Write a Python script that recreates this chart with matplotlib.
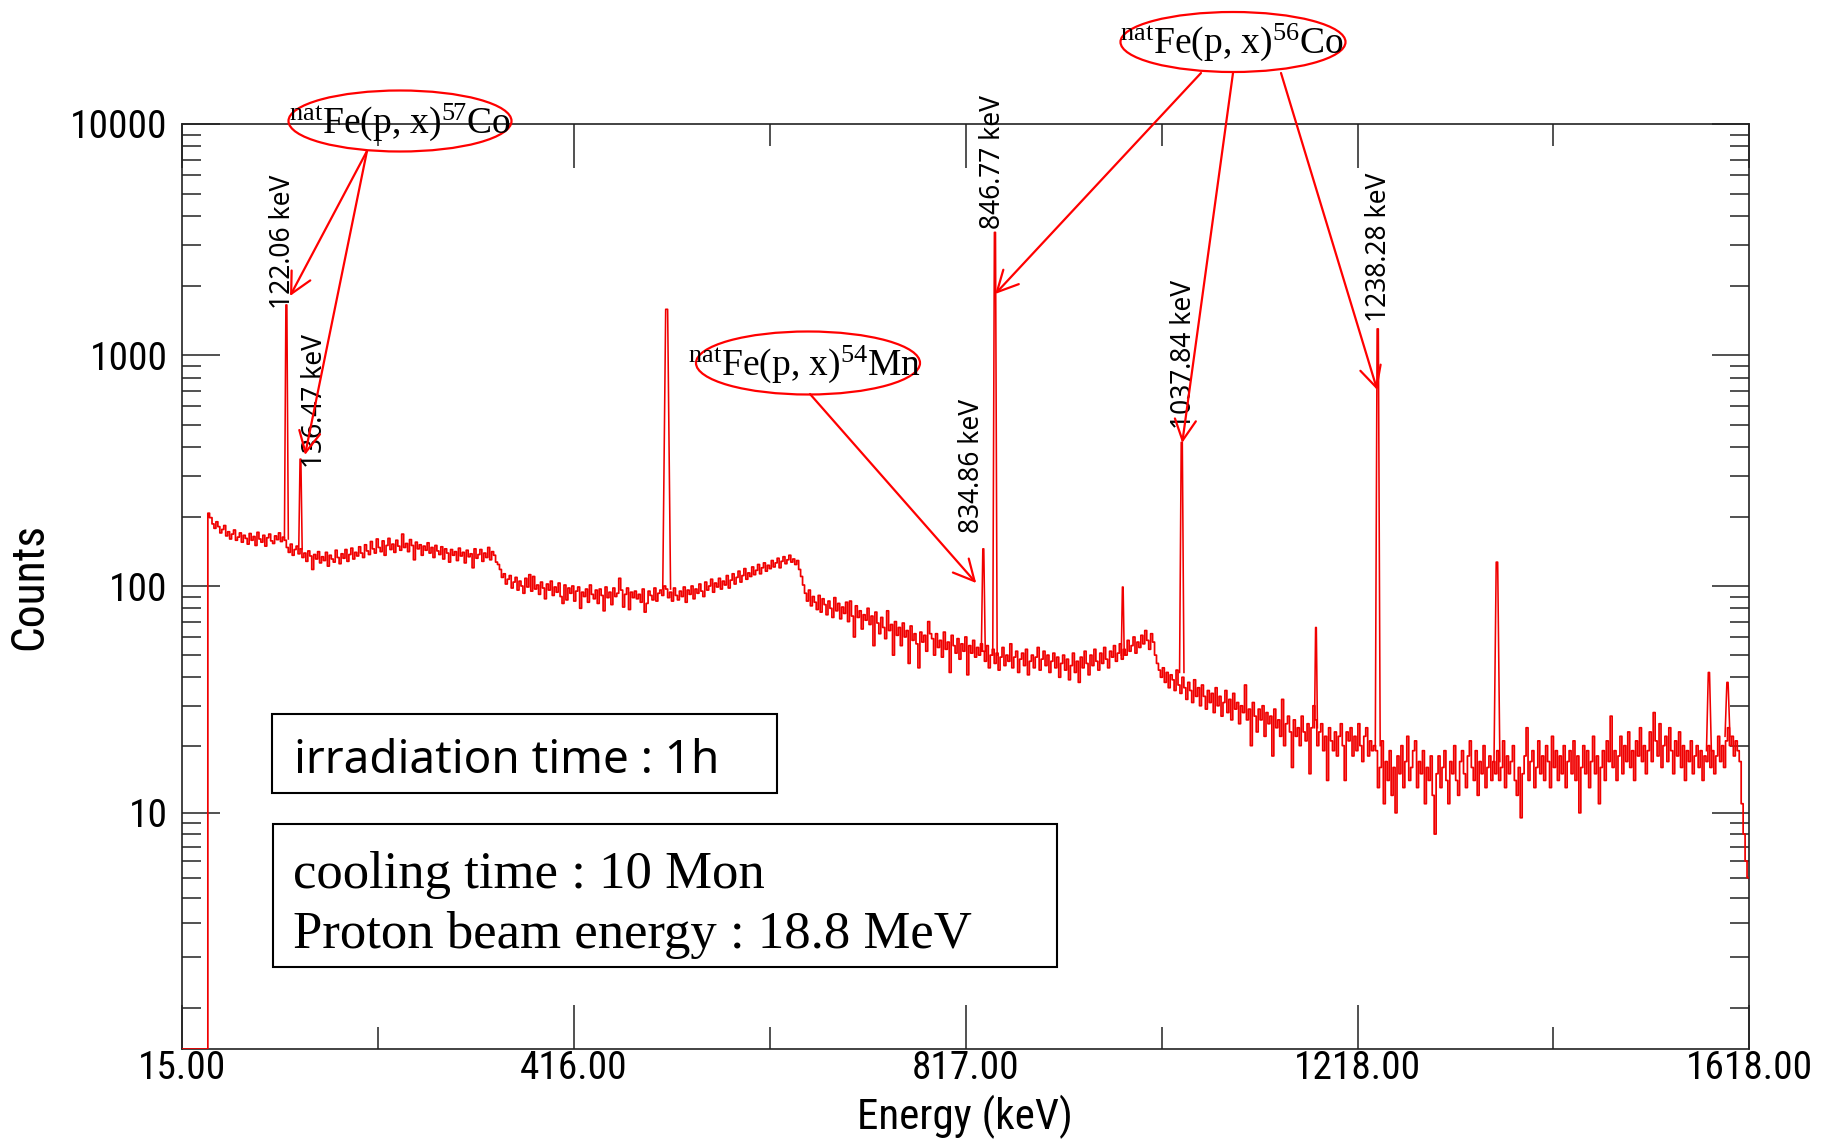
import numpy as np
import matplotlib
matplotlib.use("Agg")
import matplotlib.pyplot as plt
from matplotlib.patches import Ellipse, Rectangle
from matplotlib import font_manager as fm
from matplotlib.textpath import TextPath

plt.rcParams['font.family'] = ['Liberation Sans', 'DejaVu Sans']
plt.rcParams['mathtext.fontset'] = 'custom'
plt.rcParams['mathtext.rm'] = 'Liberation Serif'
plt.rcParams['mathtext.it'] = 'Liberation Serif:italic'
plt.rcParams['mathtext.bf'] = 'Liberation Serif:bold'

# ---------------- data ----------------
# below the detector threshold the spectrum sits on the axis floor
zero_energy = [15.0, 41.5]
zero_counts = [0.5, 0.5]
onset_energy = [42.0]
onset_counts = [207]

bin_step = 2

seg1_start = 45
seg1_counts = [198, 186, 178, 190, 181, 170, 176, 183, 165, 172,
               160, 168, 175, 158, 163, 170, 155, 166, 161, 152,
               169, 158, 164, 150, 171, 160, 155, 166, 149, 162,
               168, 157, 153, 165, 159, 170, 156, 163]
seg2_start = 121
seg2_counts = [158, 147, 140, 152, 136, 144, 149, 138, 145, 133,
               139, 128, 142, 135, 118, 137, 131, 141, 126, 134,
               129, 140, 122, 136, 131, 127, 143, 133, 125, 138,
               132, 144, 128, 137, 146, 131, 140, 135, 148, 139,
               133, 151, 142, 137, 156, 145, 139, 160, 147, 141,
               157, 136, 150, 161, 144, 152, 140, 158, 149, 143,
               168, 147, 153, 141, 159, 150, 130, 155, 145, 151,
               136, 149, 143, 154, 139, 147, 133, 150, 142, 137,
               148, 131, 145, 139, 127, 144, 136, 141, 129, 146,
               135, 140, 126, 143, 134, 138, 120, 145, 132, 137,
               144, 128, 139, 133, 147, 130, 141, 136, 127, 124]
seg3_start = 341
seg3_counts = [118, 109, 113, 102, 107, 111, 98, 104, 109, 96,
               105, 100, 93, 108, 99, 112, 95, 110, 97, 101,
               92, 104, 98, 88, 102, 96, 105, 91, 99, 94,
               103, 90, 84, 101, 87, 98, 93, 100, 86, 95,
               99, 80, 94, 90, 97, 85, 101, 92, 88, 96,
               84, 97, 91, 78, 99, 89, 94, 83, 98, 90,
               93, 108, 96, 81, 92, 98, 79, 94, 89, 95,
               88, 92, 85, 97, 77, 84, 95, 91, 87, 98,
               86, 93, 96, 91, 100]
seg4_start = 511
seg4_counts = [97, 89, 94, 86, 98, 91, 87, 95, 90, 99,
               85, 96, 92, 100, 88, 97, 93, 102, 95, 90,
               104, 96, 100, 107, 94, 103, 99, 108, 97, 105,
               101, 111, 98, 106, 113, 102, 109, 116, 104, 111,
               119, 107, 114, 110, 121, 112, 117, 124, 113, 120,
               126, 116, 123, 119, 129, 121, 126, 132, 120, 128,
               134, 125, 130, 136, 127, 131, 124, 129, 118]
seg5_start = 649
seg5_counts = [110, 101, 93, 86, 96, 82, 90, 85, 79, 91,
               77, 88, 83, 75, 86, 80, 73, 89, 78, 84,
               72, 81, 76, 85, 70, 86, 74, 60, 82, 73,
               78, 65, 75, 71, 80, 68, 74, 55, 77, 69,
               62, 73, 66, 59, 78, 64, 68, 50, 70, 61,
               66, 55, 69, 60, 64, 46, 67, 58, 62, 56,
               44, 63, 57, 61, 52, 70, 62, 59, 50, 62,
               54, 58, 49, 63, 53, 57, 42, 61, 55, 51,
               59, 48, 56, 52, 60, 41, 55, 51, 58, 49,
               54, 50, 56]
seg6_start = 835
seg6_counts = [52, 47, 55, 44, 50, 53, 46, 51, 43, 49,
               54, 45, 50, 47, 56, 44, 49, 52, 42, 48,
               51, 45, 53, 41, 47, 50, 44, 49, 54, 43,
               48, 52, 45, 50, 42, 47, 51, 44, 49, 40,
               46, 50, 43, 48, 39, 45, 51, 42, 47, 38,
               49, 44, 52, 46, 41, 50, 45, 53, 47, 43,
               51, 46, 54, 48, 44, 52, 49, 55, 47, 51,
               56, 48, 53, 50, 58, 52, 55, 60, 51, 57,
               54]
seg7_start = 997
seg7_counts = [61, 56, 64, 58, 53, 62, 57, 50, 46, 43,
               40, 44, 38, 42, 36, 41, 39, 35, 43, 37,
               34, 40, 36, 32, 38, 35, 31, 39, 33, 36,
               30, 37, 33, 29, 35, 31, 34, 28, 36, 30,
               33, 27, 31, 35, 28, 32, 26, 34, 29, 31,
               25, 30, 28, 37, 26, 29, 20, 31, 27, 23,
               29, 26, 30, 22, 28, 25, 27, 18, 29, 24,
               26, 22, 32, 20, 25, 27, 23, 16, 26, 22,
               24, 20, 27, 23, 21, 25, 15, 24, 30, 26,
               20, 23, 25, 19, 22, 14, 24, 21, 19, 23,
               18, 22, 25, 20, 14, 23, 21, 24, 18, 22,
               19, 25, 20, 17, 22, 24, 18, 21, 19, 20]
seg8_start = 1237
seg8_counts = [19, 13, 16, 21, 11, 17, 14, 19, 12, 16,
               10, 18, 15, 20, 13, 17, 22, 14, 16, 19,
               21, 13, 17, 15, 19, 11, 16, 14, 18, 12,
               8, 15, 18, 13, 16, 19, 14, 11, 17, 15,
               20, 14, 12, 17, 19, 15, 13, 18, 21, 16,
               14, 19, 12, 17, 15, 20, 13, 16, 18, 14,
               17, 15, 19, 14, 16, 21, 13, 18, 15, 17,
               20, 14, 12, 16, 9.5, 15, 18, 24, 14, 17,
               19, 13, 16, 21, 15, 18, 14, 20, 17, 13,
               22, 16, 19, 14, 18, 15, 20, 13, 17, 19,
               15, 21, 14, 18, 10, 16, 20, 15, 19, 13,
               17, 22, 15, 18, 11, 16, 19, 14, 21, 17,
               27, 16, 19, 14, 18, 22, 15, 20, 17, 23,
               16, 19, 14, 21, 18, 24, 17, 20, 15, 19,
               23, 17, 28, 21, 18, 25, 16, 20, 22, 17,
               24, 19, 15, 21, 18, 23, 16, 20, 14, 19,
               17, 21, 15, 18, 20, 16, 19, 14, 18, 17,
               20, 16, 19, 15, 18, 22, 17, 20, 16, 21,
               24, 20, 22, 18, 21, 19, 17, 11, 8, 6,
               5]

continuum_starts = [seg1_start, seg2_start, seg3_start, seg4_start,
                    seg5_start, seg6_start, seg7_start, seg8_start]
continuum_counts = [seg1_counts, seg2_counts, seg3_counts, seg4_counts,
                    seg5_counts, seg6_counts, seg7_counts, seg8_counts]

# full-energy peaks: centre (keV), apex counts, continuum under the peak, base width (keV)
peak_energy = [122.06, 136.47, 511.0, 834.86, 846.77, 977.5, 1037.84, 1175.1,
               1238.28, 1360.2, 1577.0, 1596.0]
peak_top = [1650, 355, 1580, 145, 3400, 99, 420, 66, 1300, 127, 42, 38]
peak_base = [160, 145, 97, 52, 50, 50, 42, 24, 20, 17, 19, 22]
peak_width = [4.0, 3.5, 8.0, 4.0, 4.5, 3.0, 4.5, 3.0, 5.0, 6.0, 5.0, 5.0]

x_ticks = [15.0, 416.0, 817.0, 1218.0, 1618.0]
x_minor = [215.5, 616.5, 1017.5, 1417.5]
y_ticks = [10, 100, 1000, 10000]
y_labels = ['10', '100', '1000', '10000']

kev_labels = ['122.06 keV', '136.47 keV', '846.77 keV', '834.86 keV',
              '1037.84 keV', '1238.28 keV']


# ---------------- fonts: prefer a condensed sans like the MCA software ----------------
def pick_narrow():
    prefs = ['Liberation Sans Narrow', 'Arial Narrow', 'Roboto Condensed',
             'Open Sans Condensed', 'Noto Sans Condensed', 'DejaVu Sans Condensed']
    by_name = {}
    for f in fm.fontManager.ttflist:
        by_name.setdefault(f.name, []).append(f)

    def regular(lst):
        for f in lst:
            if f.style == 'normal' and f.weight in (400, 'normal', 'regular', 'book'):
                return f
        return None

    for p in prefs:
        if p in by_name:
            f = regular(by_name[p]) or by_name[p][0]
            return fm.FontProperties(fname=f.fname)
    cands = [f for f in fm.fontManager.ttflist
             if str(f.stretch) in ('condensed', 'semi-condensed', 'extra-condensed')
             and 'Sans' in f.name and 'Mono' not in f.name]
    f = regular(cands)
    if f is not None:
        return fm.FontProperties(fname=f.fname)
    return fm.FontProperties(family='Liberation Sans')


narrow_fp = pick_narrow()


def fit_pt(text, target_px, cap_pt):
    w = TextPath((0, 0), text, size=1, prop=narrow_fp).get_extents().width
    return min(cap_pt, target_px / w * 0.72)


tick_pt = fit_pt('10000', 92, 31)
xlab_pt = fit_pt('Energy (keV)', 210, 34)
ylab_pt = fit_pt('Counts', 122, 34)

# ---------------- figure ----------------
W, H = 1825, 1139
fig = plt.figure(figsize=(W / 100, H / 100), dpi=100)
fig.patch.set_facecolor('white')


def fx(X):
    return X / W


def fy(Y):
    return 1 - Y / H


ax_l, ax_r, ax_t, ax_b = 181.7, 1749.0, 124.0, 1049.0
ax = fig.add_axes([fx(ax_l), fy(ax_b), (ax_r - ax_l) / W, (ax_b - ax_t) / H])

# counts axis of the MCA display: logarithmic in (counts + 0.5)
ax.set_yscale('function', functions=(lambda y: np.log10(np.asarray(y) + 0.5),
                                     lambda u: 10 ** np.asarray(u) - 0.5))

red = '#f00000'
energy_all = list(zero_energy) + list(onset_energy)
counts_all = list(zero_counts) + list(onset_counts)
for start, vals in zip(continuum_starts, continuum_counts):
    e = start + bin_step * np.arange(len(vals))
    energy_all += list(e)
    counts_all += list(vals)
ax.plot(energy_all, counts_all, color=red, lw=1.25, zorder=3, drawstyle='steps-mid')

for e0, top, base, w in zip(peak_energy, peak_top, peak_base, peak_width):
    ax.plot([e0 - w / 2, e0 - w / 8, e0 + w / 8, e0 + w / 2], [base, top, top, base],
            color=red, lw=1.15, zorder=3)

ax.set_xlim(15, 1618)
ax.set_ylim(0.5, 10000)

ax.set_xticks(x_ticks, labels=[f'{v:.2f}' for v in x_ticks])
ax.set_xticks(x_minor, minor=True)
ax.set_yticks(y_ticks, labels=y_labels)
ymin = []
for dec in [1, 10, 100, 1000]:
    for m in range(2 if dec > 1 else 1, 10):
        ymin.append(m * dec)
ax.set_yticks(ymin, minor=True)
ax.yaxis.set_minor_formatter(plt.NullFormatter())

ax.tick_params(which='both', direction='in', top=True, right=True, color='#222222', width=1.1)
ax.tick_params(axis='x', which='major', length=32, pad=1)
ax.tick_params(axis='x', which='minor', length=16)
ax.tick_params(axis='y', which='major', length=27, pad=10)
ax.tick_params(axis='y', which='minor', length=14)
for lab in ax.get_xticklabels() + ax.get_yticklabels():
    lab.set_fontproperties(narrow_fp)
    lab.set_fontsize(tick_pt)
for s in ax.spines.values():
    s.set_linewidth(1.2)
    s.set_color('#222222')

ax.set_xlabel('Energy (keV)', fontproperties=narrow_fp, fontsize=xlab_pt)
ax.xaxis.set_label_coords(0.5, -0.074)
ax.xaxis.label.set_va('center')
ax.set_ylabel('Counts', fontproperties=narrow_fp, fontsize=ylab_pt)
ax.yaxis.set_label_coords(-0.097, 0.5)
ax.yaxis.label.set_va('center')

# ---------------- annotations ----------------
label_e = [119.1, 151.4, 845.0, 823.5, 1040.0, 1240.0]
label_y = [1580, 325, 3515, 170, 480, 1392]
for txt, e0, y0 in zip(kev_labels, label_e, label_y):
    ax.text(e0, y0, txt, rotation=90, ha='center', va='bottom', fontsize=19,
            family=['Noto Sans', 'DejaVu Sans'], clip_on=False, zorder=5)

arrow_kw = dict(arrowstyle='->,head_length=0.75,head_width=0.38', color='red', lw=1.6,
                shrinkA=0, shrinkB=0, mutation_scale=20)
arrows = [((367, 151), (125.8, 1803)), ((367, 151), (141.1, 370)),
          ((1201, 73), (847.0, 1840)), ((1233, 73), (1038.3, 417)),
          ((1281, 73), (1237.8, 707)), ((810, 394), (827.6, 103))]
for (X, Y), tip in arrows:
    ax.annotate('', xy=tip, xycoords='data', xytext=(fx(X), fy(Y)),
                textcoords='figure fraction', arrowprops=arrow_kw,
                annotation_clip=False, zorder=6)

reactions = [(r'$^{\rm nat}$Fe(p, x)$^{57}$Co', (400, 121, 223, 61), (400, 133)),
             (r'$^{\rm nat}$Fe(p, x)$^{56}$Co', (1233, 42, 225, 60), (1232, 53)),
             (r'$^{\rm nat}$Fe(p, x)$^{54}$Mn', (808, 363, 224, 63), (804, 375))]
for txt, (cx, cy, ew, eh), (tx, ty) in reactions:
    fig.add_artist(Ellipse((fx(cx), fy(cy)), ew / W, eh / H, transform=fig.transFigure,
                           fill=False, ec='red', lw=1.6, zorder=7))
    fig.text(fx(tx), fy(ty), txt, ha='center', va='baseline', fontsize=27,
             family='Liberation Serif', zorder=8)

# info boxes
fig.add_artist(Rectangle((fx(272), fy(793)), (777 - 272) / W, (793 - 714) / H,
                         transform=fig.transFigure, fill=False, ec='black', lw=1.5))
fig.text(fx(294), fy(773), 'irradiation time : 1h', ha='left', va='baseline',
         fontsize=33, family=['Noto Sans', 'DejaVu Sans'])
fig.add_artist(Rectangle((fx(273), fy(967)), (1057 - 273) / W, (967 - 824) / H,
                         transform=fig.transFigure, fill=False, ec='black', lw=1.5))
fig.text(fx(293), fy(888), 'cooling time : 10 Mon', ha='left', va='baseline',
         fontsize=38, family='Liberation Serif')
fig.text(fx(293), fy(948), 'Proton beam energy : 18.8 MeV', ha='left', va='baseline',
         fontsize=38, family='Liberation Serif')

fig.savefig('out.png', dpi=100, facecolor='white')
